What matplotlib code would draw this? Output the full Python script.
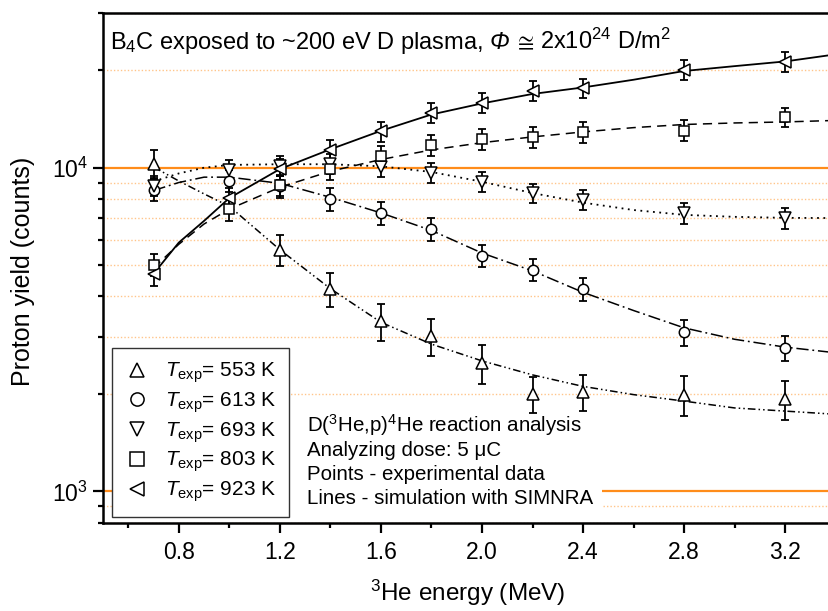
import matplotlib
matplotlib.use("Agg")
import matplotlib.pyplot as plt
from matplotlib.lines import Line2D
from matplotlib.patches import Rectangle
from matplotlib.ticker import FixedLocator, NullFormatter, LogLocator
import numpy as np

plt.rcParams['font.family'] = ['Liberation Sans', 'DejaVu Sans']
plt.rcParams['mathtext.fontset'] = 'custom'
plt.rcParams['mathtext.rm'] = 'Liberation Sans'
plt.rcParams['mathtext.it'] = 'Liberation Sans:italic'
plt.rcParams['mathtext.bf'] = 'Liberation Sans:bold'
plt.rcParams['mathtext.fallback'] = 'stixsans'

# ---------------- data ----------------
energy = [0.7, 1.0, 1.2, 1.4, 1.6, 1.8, 2.0, 2.2, 2.4, 2.8, 3.2]
energy_553 = [0.7, 1.2, 1.4, 1.6, 1.8, 2.0, 2.2, 2.4, 2.8, 3.2]

y_553 = [10300, 5580, 4230, 3350, 3010, 2490, 2000, 2030, 1990, 1930]
e_553 = [0.10, 0.11, 0.12, 0.13, 0.13, 0.14, 0.13, 0.13, 0.14, 0.14]

y_613 = [8550, 9120, 8750, 8010, 7230, 6470, 5350, 4840, 4220, 3100, 2780]
e_613 = [0.08, 0.08, 0.08, 0.08, 0.08, 0.08, 0.08, 0.08, 0.08, 0.09, 0.09]

y_693 = [8800, 9860, 10150, 10300, 10050, 9650, 9050, 8350, 7970, 7250, 6990]
e_693 = [0.07, 0.07, 0.07, 0.07, 0.07, 0.07, 0.07, 0.07, 0.07, 0.075, 0.075]

y_803 = [5020, 7460, 8830, 9900, 10860, 11750, 12270, 12400, 12850, 13030, 14340]
e_803 = [0.08, 0.08, 0.075, 0.075, 0.075, 0.075, 0.075, 0.075, 0.075, 0.075, 0.07]

y_923 = [4680, 8070, 9900, 11360, 12940, 14780, 15900, 17320, 17620, 20050, 21290]
e_923 = [0.08, 0.075, 0.075, 0.07, 0.07, 0.07, 0.07, 0.07, 0.07, 0.07, 0.07]

# simulation curves (SIMNRA)
sim_x = [0.7, 0.8, 0.9, 1.0, 1.2, 1.4, 1.6, 1.8, 2.0, 2.2, 2.4, 2.6, 2.8, 3.0, 3.2, 3.4]
sim_553 = [10050, 9100, 8300, 7600, 5580, 4230, 3330, 2850, 2530, 2290, 2110, 1990, 1900, 1810, 1770, 1730]
sim_613 = [8500, 9000, 9350, 9350, 8950, 8100, 7250, 6400, 5450, 4800, 4120, 3620, 3200, 2950, 2790, 2680]
sim_693 = [9070, 9600, 10000, 10200, 10250, 10250, 10100, 9700, 9050, 8350, 7800, 7400, 7150, 7050, 7000, 6990]
sim_803 = [4900, 5800, 6700, 7450, 8700, 9750, 10600, 11350, 11950, 12450, 12900, 13300, 13600, 13750, 13850, 14000]
sim_923 = [4700, 5870, 6850, 8060, 9900, 11400, 13000, 14600, 15800, 16900, 17700, 18700, 19900, 20600, 21300, 22400]

labels = ["553 K", "613 K", "693 K", "803 K", "923 K"]
markers = ['^', 'o', 'v', 's', '<']

xticks_major = [0.8, 1.2, 1.6, 2.0, 2.4, 2.8, 3.2]
xticks_minor = [0.6, 1.0, 1.4, 1.8, 2.2, 2.6, 3.0, 3.4]

# ---------------- figure ----------------
W, H = 829, 611
fig = plt.figure(figsize=(W / 100, H / 100), dpi=100)
ax_left, ax_right, ax_top, ax_bot = 103, 835.7, 13.3, 522.7
ax = fig.add_axes([ax_left / W, 1 - ax_bot / H, (ax_right - ax_left) / W, (ax_bot - ax_top) / H])

ax.set_yscale('log')
ax.set_xlim(0.5, 3.4)
ax.set_ylim(800, 30000)

# grids
ax.set_axisbelow(True)
ax.yaxis.set_major_locator(FixedLocator([1000, 10000]))
ax.yaxis.set_minor_locator(LogLocator(base=10, subs=np.arange(2, 10)))
ax.yaxis.set_minor_formatter(NullFormatter())
ax.set_yticks([1000, 10000])
ax.set_yticklabels([r'$10^3$', r'$10^4$'])
ax.grid(True, which='major', axis='y', color='#FF8C1A', lw=1.6, ls='-')
ax.grid(True, which='minor', axis='y', color='#FFC58A', lw=1.0, ls=(0, (1, 1.5)))

ax.set_xticks(xticks_major)
ax.set_xticklabels([f"{v:.1f}" for v in xticks_major])
ax.set_xticks(xticks_minor, minor=True)

ax.tick_params(axis='both', which='major', direction='out', length=7, width=1.6, labelsize=16.5)
ax.tick_params(axis='both', which='minor', direction='out', length=3.5, width=1.6)
ax.tick_params(axis='x', which='major', pad=6)
ax.tick_params(axis='y', which='major', pad=4)
for s in ['left', 'bottom', 'top']:
    ax.spines[s].set_linewidth(1.8)
ax.spines['right'].set_visible(False)

lstyles = {
    '553': (0, (5, 2, 1, 2, 1, 2)),
    '613': (0, (8, 2.5, 1.2, 2.5)),
    '693': (0, (1, 2.5)),
    '803': (0, (6, 4)),
    '923': '-',
}
ax.plot(sim_x, sim_553, color='black', lw=1.1, ls=lstyles['553'], zorder=2)
ax.plot(sim_x, sim_613, color='black', lw=1.1, ls=lstyles['613'], zorder=2)
ax.plot(sim_x, sim_693, color='black', lw=1.3, ls=lstyles['693'], zorder=2)
ax.plot(sim_x, sim_803, color='black', lw=1.1, ls=lstyles['803'], zorder=2)
ax.plot(sim_x, sim_923, color='black', lw=1.3, ls=lstyles['923'], zorder=2)

series = [
    (energy_553, y_553, e_553, '^', 8.5),
    (energy, y_613, e_613, 'o', 7.5),
    (energy, y_693, e_693, 'v', 8.5),
    (energy, y_803, e_803, 's', 7),
    (energy, y_923, e_923, '<', 8.5),
]
for xs, ys, rel, m, ms in series:
    ys = np.array(ys, float)
    err = ys * np.array(rel)
    ax.errorbar(xs, ys, yerr=err, fmt='none', ecolor='black', elinewidth=1.3,
                capsize=2.8, capthick=1.3, zorder=3)
    ax.plot(xs, ys, ls='none', marker=m, ms=ms, mfc='white', mec='black', mew=1.1, zorder=4)

# axis labels (placed in figure pixels)
fig.text(467.5 / W, (H - 601) / H, r'$^3$He energy (MeV)', fontsize=17.5,
         ha='center', va='baseline')
fig.text(23 / W, (H - 271.5) / H, 'Proton yield (counts)', fontsize=18,
         ha='center', va='center', rotation=90)

# title text inside, built from pieces so that Phi can be italic
renderer = fig.canvas.get_renderer()
tfs = 17
base_y = (H - 49.3) / H
px = 110.0
pieces = [
    (r'B$_4$C exposed to ~200 eV D plasma,', 'normal', 6.5),
    ('Φ', 'italic', 5.0),
    (r'$\cong$', 'normal', 5.0),
    (r'2x10$^{24}$ D/m$^2$', 'normal', 0),
]
for txt, style, gap in pieces:
    t = fig.text(px / W, base_y, txt, fontsize=tfs, fontstyle=style,
                 ha='left', va='baseline', zorder=6)
    bb = t.get_window_extent(renderer)
    px = bb.x1 + gap

# annotation block with white background
def px2ax(px, py):
    return ((px - ax_left) / (ax_right - ax_left), (ax_bot - py) / (ax_bot - ax_top))

x0, y0 = px2ax(290, 522)
x1, y1 = px2ax(602, 405)
ax.add_patch(Rectangle((x0, y0), x1 - x0, y1 - y0, transform=ax.transAxes,
                       facecolor='white', edgecolor='none', zorder=1))
ann_lines = [r'D($^3$He,p)$^4$He reaction analysis',
             'Analyzing dose: 5 μC',
             'Points - experimental data',
             'Lines - simulation with SIMNRA']
ann_base = [431.7, 456, 480, 504]
for t, b in zip(ann_lines, ann_base):
    tx, ty = px2ax(307, b)
    ax.text(tx, ty, t, transform=ax.transAxes, fontsize=14.8, va='baseline', ha='left', zorder=6)

# legend
handles = [Line2D([], [], ls='none', marker=m, ms=9.5, mfc='white', mec='black', mew=1.1)
           for m in markers]
leg_labels = [r'$\mathit{T}_{\rm exp}$= ' + l for l in labels]
lx, ly = px2ax(111.7, 516.7)
leg = ax.legend(handles, leg_labels, loc='lower left', bbox_to_anchor=(lx, ly),
                borderaxespad=0, fontsize=15, frameon=True, fancybox=False,
                edgecolor='#333333', framealpha=1, handlelength=1.2, handletextpad=0.75,
                labelspacing=0.25, borderpad=0.6)
leg.get_frame().set_linewidth(1.0)
leg.set_zorder(7)

fig.savefig('out.png', dpi=100)
